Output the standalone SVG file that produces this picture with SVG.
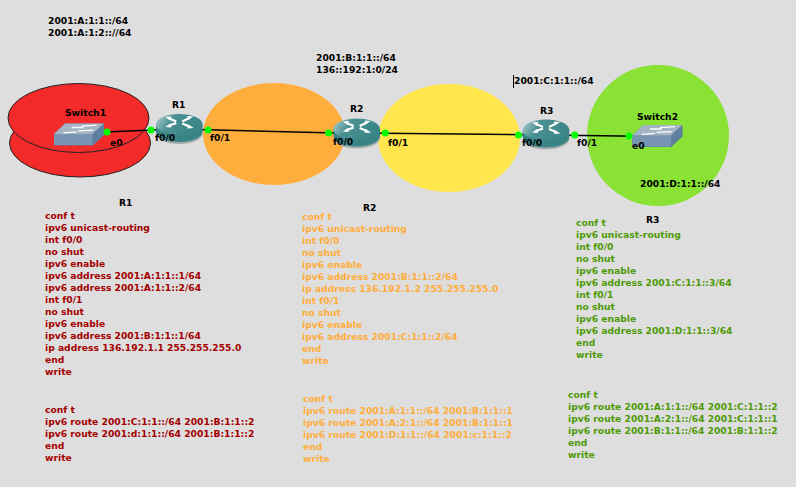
<svg xmlns="http://www.w3.org/2000/svg" width="796" height="487" viewBox="0 0 796 487">
<style>
text{font-family:"DejaVu Sans",sans-serif;font-weight:700;font-size:9.2px;fill:#000}
.r{fill:#a40000}.o{fill:#ffad3c}.g{fill:#4e9a06}
.link{stroke:#000;stroke-width:1.5;fill:none}
.dot{fill:#00ff00}
</style>
<defs>
<linearGradient id="rt" x1="0" y1="0" x2="1" y2="0.3"><stop offset="0" stop-color="#b4d4d2"/><stop offset=".4" stop-color="#4a9092"/><stop offset="1" stop-color="#3a8688"/></linearGradient>
<g id="router">
<ellipse cx="0" cy="9" rx="23.300" ry="10.500" fill="#a5adad"/>
<path d="M-23.300 0V7A23.300 10.500 0 0 0 23.300 7V0Z" fill="#3a8486"/>
<ellipse cx="0" cy="0" rx="23.300" ry="10.500" fill="url(#rt)"/>
<path d="M-10-6L-3-3M10-6.500L3-3M-10 1L-3-1.500M10 2L3-1" stroke="#fff" stroke-width="2.200" fill="none"/>
<path d="M-14-7.500L-8-8-9-4ZM14-8L8-8.500 9-4.500ZM-14 2.500L-9-1-8 3ZM14.500 3.500L9 0 8 4Z" fill="#fff"/>
</g>
<g id="switch">
<path d="M0 10.500L11 0H50V11.500L38.700 22H0Z" fill="#5d7d9e"/>
<path d="M0 10.500H38.700V21.500H0Z" fill="#7895b3"/>
<path d="M0 10.500L11 0H50L38.700 10.500Z" fill="#a3b4c4"/>
<path d="M38.700 10.500L50 0V11.500L38.700 22Z" fill="#5f7f9f"/>
<path d="M17.700 4H29.300M27.700 2.700L42.700 1.700M9.300 9.300L22.700 8.300M24.300 7.300L39.300 6.700" stroke="#fff" stroke-width="1.300" fill="none"/>
</g>
</defs>
<rect width="796" height="487" fill="#dedede"/>
<g id="regions">
<ellipse cx="80" cy="143" rx="70.500" ry="34" fill="#f22a2a" stroke="#222"/>
<ellipse cx="78.500" cy="118" rx="70.500" ry="34.500" fill="#f22a2a" stroke="#222"/>
<ellipse cx="274" cy="134" rx="71" ry="51" fill="#ffad3c"/>
<ellipse cx="449" cy="138" rx="71" ry="54" fill="#ffe64d"/>
<ellipse cx="658" cy="135.500" rx="71" ry="70.500" fill="#8ae234"/>
</g>
<g id="connectors">
<path class="link" d="M79 133L179 129"/>
<path class="link" d="M179 129L357 133.500"/>
<path class="link" d="M357 133L546 135"/>
<path class="link" d="M546 135L657 136.500"/>
</g>
<g id="Switch1"><use href="#switch" x="54" y="123.500"/><text x="65" y="116">Switch1</text><text x="110" y="146">e0</text></g>
<g id="R1"><use href="#router" x="179.300" y="124.500"/><text x="172" y="108">R1</text><text x="155" y="141">f0/0</text><text x="210" y="141">f0/1</text></g>
<g id="R2"><use href="#router" x="356.700" y="129"/><text x="350" y="112">R2</text><text x="333" y="145">f0/0</text><text x="388" y="146">f0/1</text></g>
<g id="R3"><use href="#router" x="546" y="130"/><text x="540" y="114">R3</text><text x="522" y="146">f0/0</text><text x="577" y="146">f0/1</text></g>
<g id="Switch2"><use href="#switch" x="632.300" y="125"/><text x="637" y="120">Switch2</text><text x="632" y="149">e0</text></g>
<g id="ports">
<circle class="dot" cx="107" cy="132" r="3.500"/><circle class="dot" cx="151" cy="130" r="3.500"/><circle class="dot" cx="208" cy="130" r="3.500"/><circle class="dot" cx="328.500" cy="133" r="3.500"/><circle class="dot" cx="385.300" cy="133" r="3.500"/><circle class="dot" cx="518.500" cy="135" r="3.500"/><circle class="dot" cx="574.700" cy="135" r="3.500"/><circle class="dot" cx="629" cy="136" r="3.500"/>
</g>
<g id="labels">
<text x="48" y="24">2001:A:1:1::/64</text><text x="48" y="36">2001:A:1:2:://64</text>
<text x="316" y="61">2001:B:1:1::/64</text><text x="316" y="73">136::192:1:0/24</text>
<text x="514" y="84">2001:C:1:1::/64</text><path d="M513.500 75V88" stroke="#000"/>
<text x="640" y="187">2001:D:1:1::/64</text>
<text x="119" y="206">R1</text><text x="363" y="211">R2</text><text x="646" y="223">R3</text>
</g>
<g id="config-r1">
<text class="r" x="45" y="219">conf t</text><text class="r" x="45" y="231">ipv6 unicast-routing</text><text class="r" x="45" y="243">int f0/0</text><text class="r" x="45" y="255">no shut</text><text class="r" x="45" y="267">ipv6 enable</text><text class="r" x="45" y="279">ipv6 address 2001:A:1:1::1/64</text><text class="r" x="45" y="291">ipv6 address 2001:A:1:1::2/64</text><text class="r" x="45" y="303">int f0/1</text><text class="r" x="45" y="315">no shut</text><text class="r" x="45" y="327">ipv6 enable</text><text class="r" x="45" y="339">ipv6 address 2001:B:1:1::1/64</text><text class="r" x="45" y="351">ip address 136.192.1.1 255.255.255.0</text><text class="r" x="45" y="363">end</text><text class="r" x="45" y="375">write</text>
<text class="r" x="45" y="413">conf t</text><text class="r" x="45" y="425">ipv6 route 2001:C:1:1::/64 2001:B:1:1::2</text><text class="r" x="45" y="437">ipv6 route 2001:d:1:1::/64 2001:B:1:1::2</text><text class="r" x="45" y="449">end</text><text class="r" x="45" y="461">write</text>
</g>
<g id="config-r2">
<text class="o" x="302" y="220">conf t</text><text class="o" x="302" y="232">ipv6 unicast-routing</text><text class="o" x="302" y="244">int f0/0</text><text class="o" x="302" y="256">no shut</text><text class="o" x="302" y="268">ipv6 enable</text><text class="o" x="302" y="280">ipv6 address 2001:B:1:1::2/64</text><text class="o" x="302" y="292">ip address 136.192.1.2 255.255.255.0</text><text class="o" x="302" y="304">int f0/1</text><text class="o" x="302" y="316">no shut</text><text class="o" x="302" y="328">ipv6 enable</text><text class="o" x="302" y="340">ipv6 address 2001:C:1:1::2/64</text><text class="o" x="302" y="352">end</text><text class="o" x="302" y="364">write</text>
<text class="o" x="303" y="402">conf t</text><text class="o" x="303" y="414">ipv6 route 2001:A:1:1::/64 2001:B:1:1::1</text><text class="o" x="303" y="426">ipv6 route 2001:A:2:1::/64 2001:B:1:1::1</text><text class="o" x="303" y="438">ipv6 route 2001:D:1:1::/64 2001:c:1:1::2</text><text class="o" x="303" y="450">end</text><text class="o" x="303" y="462">write</text>
</g>
<g id="config-r3">
<text class="g" x="576" y="226">conf t</text><text class="g" x="576" y="238">ipv6 unicast-routing</text><text class="g" x="576" y="250">int f0/0</text><text class="g" x="576" y="262">no shut</text><text class="g" x="576" y="274">ipv6 enable</text><text class="g" x="576" y="286">ipv6 address 2001:C:1:1::3/64</text><text class="g" x="576" y="298">int f0/1</text><text class="g" x="576" y="310">no shut</text><text class="g" x="576" y="322">ipv6 enable</text><text class="g" x="576" y="334">ipv6 address 2001:D:1:1::3/64</text><text class="g" x="576" y="346">end</text><text class="g" x="576" y="358">write</text>
<text class="g" x="568" y="398">conf t</text><text class="g" x="568" y="410">ipv6 route 2001:A:1:1::/64 2001:C:1:1::2</text><text class="g" x="568" y="422">ipv6 route 2001:A:2:1::/64 2001:C:1:1::1</text><text class="g" x="568" y="434">ipv6 route 2001:B:1:1::/64 2001:B:1:1::2</text><text class="g" x="568" y="446">end</text><text class="g" x="568" y="458">write</text>
</g>
</svg>
